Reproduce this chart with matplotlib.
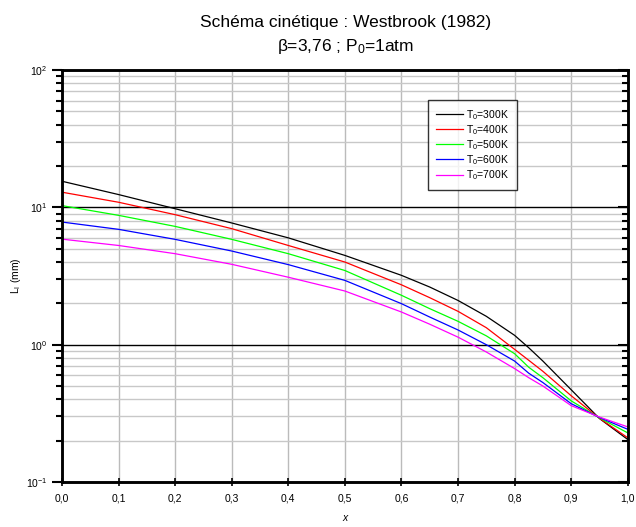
import numpy as np
import matplotlib
matplotlib.use("Agg")
import matplotlib.pyplot as plt
from matplotlib.ticker import LogLocator, FixedLocator, NullFormatter

plt.rcParams['font.family'] = ['Liberation Sans', 'DejaVu Sans']
plt.rcParams['mathtext.fontset'] = 'custom'
plt.rcParams['mathtext.rm'] = 'Liberation Sans'
plt.rcParams['mathtext.it'] = 'Liberation Sans:italic'

# richness x, values
x = [0.0, 0.1, 0.2, 0.3, 0.4, 0.5, 0.6, 0.65, 0.7, 0.75, 0.8, 0.825, 0.85, 0.9, 0.95, 1.0]
L_300 = [15.5, 12.4, 9.78, 7.7, 6.0, 4.47, 3.20, 2.63, 2.10, 1.61, 1.17, 0.95, 0.76, 0.47, 0.290, 0.204]
L_400 = [12.9, 10.9, 8.85, 7.0, 5.28, 4.0, 2.73, 2.20, 1.75, 1.33, 0.925, 0.77, 0.64, 0.425, 0.291, 0.210]
L_500 = [10.3, 8.75, 7.27, 5.85, 4.6, 3.47, 2.29, 1.83, 1.48, 1.16, 0.86, 0.685, 0.575, 0.39, 0.293, 0.228]
L_600 = [7.82, 6.92, 5.85, 4.81, 3.83, 2.94, 1.99, 1.59, 1.28, 1.0, 0.76, 0.62, 0.53, 0.372, 0.295, 0.242]
L_700 = [5.87, 5.28, 4.6, 3.85, 3.1, 2.46, 1.73, 1.41, 1.135, 0.885, 0.67, 0.575, 0.50, 0.36, 0.297, 0.252]

series = [L_300, L_400, L_500, L_600, L_700]
labels = ["T$_0$=300K", "T$_0$=400K", "T$_0$=500K", "T$_0$=600K", "T$_0$=700K"]
colors = ["black", "#ff0000", "#00ff00", "#0000ff", "#ff00ff"]

fig = plt.figure(figsize=(6.36, 5.27), dpi=100)
ax = fig.add_axes([0.0975, 0.0854, 0.8895, 0.7816])

for y, lab, c in zip(series, labels, colors):
    ax.plot(x, y, color=c, lw=0.9, label=lab)

ax.set_yscale('log')
ax.set_xlim(0, 1)
ax.set_ylim(0.1, 100)

xt = np.arange(0, 1.01, 0.1)
ax.xaxis.set_major_locator(FixedLocator(xt))
ax.set_xticklabels([f"{v:.1f}".replace('.', ',') for v in xt])
ax.yaxis.set_major_locator(FixedLocator([0.1, 1, 10, 100]))
ax.set_yticklabels([r"10$^{-1}$", r"10$^{0}$", r"10$^{1}$", r"10$^{2}$"])
ax.yaxis.set_minor_locator(LogLocator(base=10, subs=np.arange(2, 10)))
ax.yaxis.set_minor_formatter(NullFormatter())

# grid
ax.grid(which='major', axis='x', color='#bbbbbb', lw=1.0)
ax.grid(which='minor', axis='y', color='#c8c8c8', lw=1.0)
ax.grid(which='major', axis='y', color='black', lw=1.0)
ax.set_axisbelow(True)

for s in ax.spines.values():
    s.set_linewidth(1.8)

ax.tick_params(axis='y', which='major', direction='out', length=7, width=1.5, labelsize=7.5)
ax.tick_params(axis='y', which='minor', direction='out', length=4, width=1.5)
ax.tick_params(axis='x', which='major', direction='inout', length=6, width=1.2,
               labelsize=7.5, pad=5)

# ticks pointing inwards on the right and top edges
ax2 = ax.twinx()
ax2.set_yscale('log')
ax2.set_ylim(0.1, 100)
ax2.yaxis.set_major_locator(FixedLocator([0.1, 1, 10, 100]))
ax2.yaxis.set_minor_locator(LogLocator(base=10, subs=np.arange(2, 10)))
ax2.yaxis.set_major_formatter(NullFormatter())
ax2.yaxis.set_minor_formatter(NullFormatter())
ax2.tick_params(axis='y', which='major', direction='in', length=7, width=1.5)
ax2.tick_params(axis='y', which='minor', direction='in', length=4, width=1.5)
ax2.tick_params(axis='x', which='both', top=True, direction='in', length=4, width=1.2,
                labeltop=False, bottom=False, labelbottom=False)
ax2.xaxis.set_major_locator(FixedLocator(xt))
for s in ax2.spines.values():
    s.set_linewidth(1.8)

ax.set_xlabel("x", fontsize=7.5, style='italic', labelpad=7)
ax.set_ylabel("L$_\\mathrm{I}$ (mm)", fontsize=7.5, labelpad=2)

fig.text(0.543, 0.958, "Schéma cinétique : Westbrook (1982)", ha='center', va='center', fontsize=12.5)
fig.text(0.543, 0.912, "β=3,76 ; P$_0$=1atm", ha='center', va='center', fontsize=12.5)

leg = ax.legend(loc='upper left', bbox_to_anchor=(0.647, 0.927), fontsize=7.5,
                frameon=True, fancybox=False, edgecolor='black', handlelength=2.6,
                handletextpad=0.3, labelspacing=0.12, borderpad=0.75,
                borderaxespad=0)
leg.get_frame().set_linewidth(1.0)
leg.set_zorder(5)

fig.savefig("out.png", dpi=100)
